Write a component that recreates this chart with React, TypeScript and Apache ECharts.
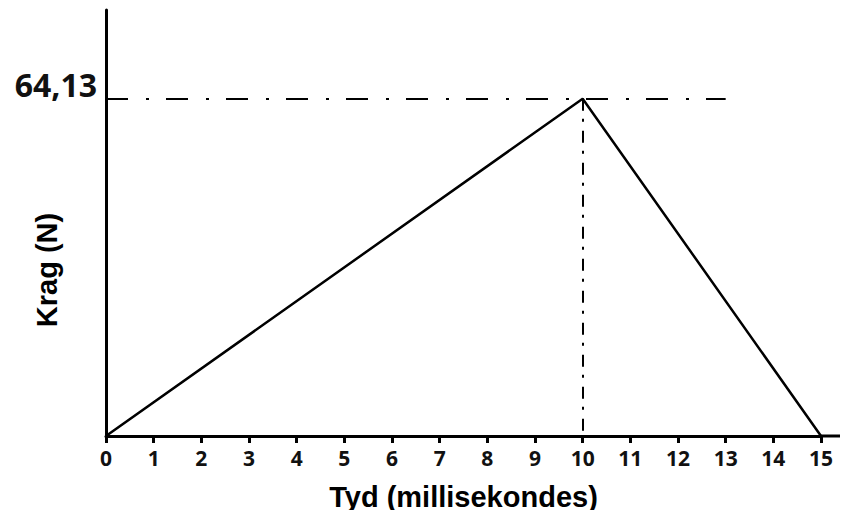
import React, { useEffect, useRef } from "react";
import * as echarts from "echarts";

const xTicks = [0, 1, 2, 3, 4, 5, 6, 7, 8, 9, 10, 11, 12, 13, 14, 15];
const forceX = [0, 10, 15];
const forceY = [0, 64.13, 0];
const peakLabel = "64,13";
const peakX = 10;
const peakY = 64.13;
const guideEndX = 13;
const xName = "Tyd (millisekondes)";
const yName = "Krag (N)";

export default function App() {
  const ref = useRef<HTMLDivElement>(null);
  useEffect(() => {
    if (!ref.current) return;
    const chart = echarts.init(ref.current, null, { renderer: "svg" });
    chart.setOption({
      animation: false,
      grid: { left: 106, right: 27, top: 10, bottom: 82 },
      xAxis: {
        type: "value",
        min: xTicks[0],
        max: xTicks[xTicks.length - 1],
        interval: 1,
        splitLine: { show: false },
        axisLine: { lineStyle: { color: "#000", width: 3 } },
        axisTick: { length: 7, lineStyle: { color: "#000", width: 3 } },
        axisLabel: {
          color: "#111",
          fontSize: 21,
          fontWeight: "bold",
          fontFamily: "Open Sans",
          margin: 11,
        },
        name: xName,
        nameLocation: "middle",
        nameGap: 46,
        nameTextStyle: {
          color: "#000",
          fontSize: 29,
          fontWeight: "bold",
          fontFamily: "Liberation Sans",
        },
      },
      yAxis: {
        type: "value",
        min: 0,
        max: 81,
        splitLine: { show: false },
        axisLine: { show: true, lineStyle: { color: "#000", width: 3 } },
        axisTick: { show: false },
        axisLabel: { show: false },
      },
      graphic: [
        {
          type: "line",
          shape: { x1: 820, y1: 436, x2: 848, y2: 436 },
          style: { stroke: "#000", lineWidth: 3 },
        },
        {
          type: "text",
          x: 47,
          y: 270,
          rotation: Math.PI / 2,
          style: {
            text: yName,
            fill: "#000",
            fontSize: 29,
            fontWeight: "bold",
            fontFamily: "Liberation Sans",
            align: "center",
            verticalAlign: "middle",
          },
        },
      ],
      series: [
        {
          type: "line",
          data: forceX.map((x, i) => [x, forceY[i]]),
          symbol: "none",
          lineStyle: { color: "#000", width: 2.5 },
          markLine: {
            symbol: "none",
            silent: true,
            data: [
              [
                {
                  coord: [0, peakY],
                  lineStyle: { color: "#000", width: 2, type: [22, 18, 3, 17] },
                  label: {
                    show: true,
                    position: "start",
                    formatter: peakLabel,
                    color: "#111",
                    fontSize: 32,
                    fontWeight: "bold",
                    fontFamily: "Open Sans",
                    distance: 9,
                    align: "right",
                    verticalAlign: "bottom",
                    padding: [0, 0, -2, 0],
                  },
                },
                { coord: [guideEndX, peakY] },
              ],
              [
                {
                  coord: [peakX, peakY],
                  lineStyle: { color: "#000", width: 2, type: [12, 8, 3, 9] },
                  label: { show: false },
                },
                { coord: [peakX, 0] },
              ],
            ],
          },
        },
      ],
    });
    return () => chart.dispose();
  }, []);
  return <div ref={ref} style={{ width: 848, height: 518, margin: -8 }} />;
}
